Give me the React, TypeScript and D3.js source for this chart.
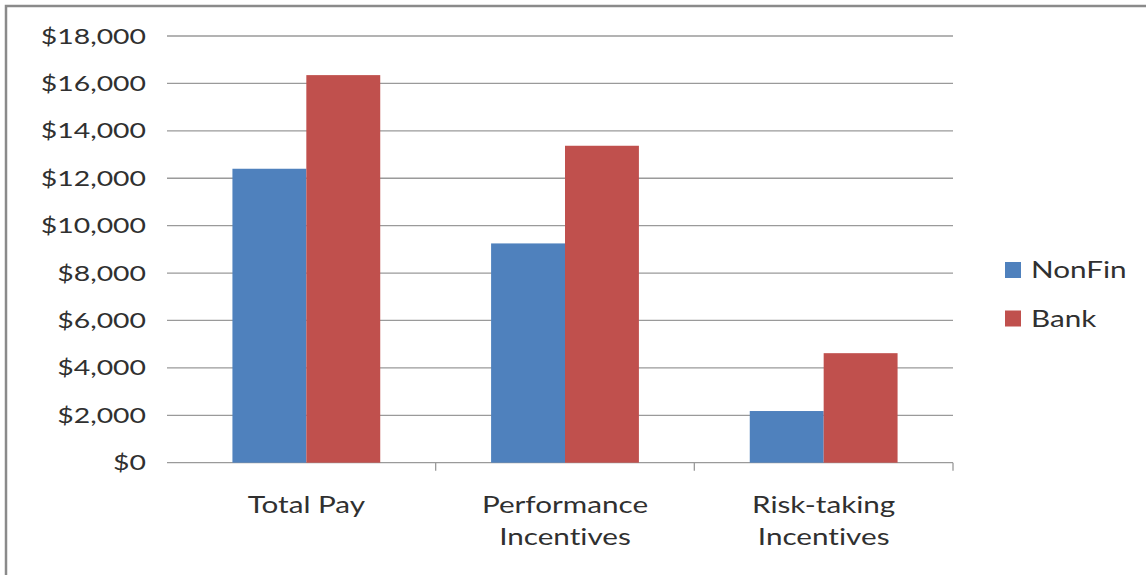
import React from "react";
import * as d3 from "d3";

const categories: string[][] = [
  ["Total Pay"],
  ["Performance", "Incentives"],
  ["Risk-taking", "Incentives"],
];
const seriesNames = ["NonFin", "Bank"];
const nonFin = [12400, 9250, 2180];
const bank = [16350, 13370, 4620];
const yTicks = [0, 2000, 4000, 6000, 8000, 10000, 12000, 14000, 16000, 18000];

const W = 1146;
const H = 575;
const colors = ["#4F81BD", "#C0504D"];
const FONT = "Lato, 'Open Sans', sans-serif";
const SX = 1.29; // horizontal stretch of the text

function StretchText(props: {
  x: number;
  y: number;
  anchor: "start" | "middle" | "end";
  size: number;
  children: React.ReactNode;
}) {
  return (
    <g transform={`translate(${props.x},${props.y}) scale(${SX},1)`}>
      <text
        x={0}
        y={0}
        textAnchor={props.anchor}
        fontFamily={FONT}
        fontSize={props.size}
        fill="#303030"
        style={{ fontVariantLigatures: "none" }}
      >
        {props.children}
      </text>
    </g>
  );
}

export default function App() {
  const gridLeft = 167;
  const plotLeft = 177;
  const plotRight = 953;
  const y = d3.scaleLinear().domain([0, 18000]).range([462.7, 36]);
  const x0 = d3
    .scaleBand<number>()
    .domain(categories.map((_, i) => i))
    .range([plotLeft, plotRight])
    .paddingInner(0)
    .paddingOuter(0);
  const bw = x0.bandwidth();
  // Excel-style 150% gap width: two bars + 1.5 bar of gap per category
  const barW = bw / 3.5;
  const fmt = (v: number) => "$" + d3.format(",")(v);
  const series = [nonFin, bank];

  return (
    <svg
      width={W}
      height={H}
      style={{ position: "absolute", left: 0, top: 0, background: "#fff" }}
    >
      <rect x={0} y={0} width={W} height={H} fill="#fff" />
      {/* chart area border */}
      <rect
        x={6}
        y={6}
        width={W + 20}
        height={H + 20}
        fill="none"
        stroke="#8a8a8a"
        strokeWidth={2.5}
      />
      {/* horizontal gridlines */}
      {yTicks.map((t) => (
        <line
          key={t}
          x1={gridLeft}
          x2={plotRight}
          y1={y(t)}
          y2={y(t)}
          stroke="#9a9a9a"
          strokeWidth={1.3}
        />
      ))}
      {/* y axis labels */}
      {yTicks.map((t) => (
        <StretchText key={t} x={146} y={y(t) + 7.5} anchor="end" size={22}>
          {fmt(t)}
        </StretchText>
      ))}
      {/* bars */}
      {categories.map((_, i) =>
        series.map((vals, s) => {
          const bx = (x0(i) as number) + bw / 2 - barW + s * barW;
          return (
            <rect
              key={`${i}-${s}`}
              x={bx}
              y={y(vals[i])}
              width={barW}
              height={y(0) - y(vals[i])}
              fill={colors[s]}
            />
          );
        })
      )}
      {/* category axis tick marks */}
      {categories.map((_, i) => {
        const tx = (x0(i) as number) + bw;
        return (
          <line
            key={i}
            x1={tx}
            x2={tx}
            y1={y(0)}
            y2={y(0) + 8}
            stroke="#9a9a9a"
            strokeWidth={1.3}
          />
        );
      })}
      {/* category labels */}
      {categories.map((lines, i) =>
        lines.map((ln, k) => (
          <StretchText
            key={`${i}-${k}`}
            x={(x0(i) as number) + bw / 2}
            y={513 + k * 32}
            anchor="middle"
            size={23}
          >
            {ln}
          </StretchText>
        ))
      )}
      {/* legend */}
      {seriesNames.map((name, s) => (
        <g key={name}>
          <rect x={1005} y={262 + s * 48.5} width={16} height={16} fill={colors[s]} />
          <StretchText x={1031} y={278 + s * 48.5} anchor="start" size={23}>
            {name}
          </StretchText>
        </g>
      ))}
    </svg>
  );
}
